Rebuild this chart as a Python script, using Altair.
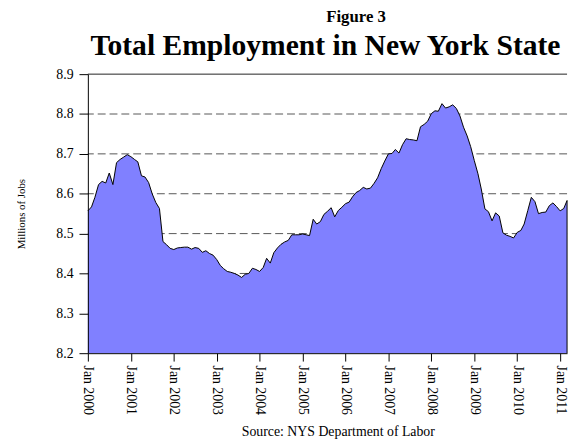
import altair as alt
import pandas as pd

months = pd.date_range("2000-01-01", periods=135, freq="MS").strftime("%Y-%m-%d").tolist()

employment = [
    8.557, 8.567, 8.591, 8.623, 8.631, 8.627, 8.652, 8.623, 8.678, 8.686, 8.692, 8.698,
    8.693, 8.686, 8.680, 8.645, 8.642, 8.628, 8.600, 8.578, 8.563, 8.480, 8.472, 8.463,
    8.460, 8.464, 8.465, 8.466, 8.466, 8.461, 8.465, 8.463, 8.453, 8.457, 8.450, 8.446,
    8.435, 8.420, 8.412, 8.405, 8.403, 8.400, 8.396, 8.390, 8.398, 8.400, 8.413, 8.410,
    8.405, 8.415, 8.438, 8.426, 8.452, 8.464, 8.473, 8.479, 8.483, 8.497, 8.497, 8.497,
    8.499, 8.497, 8.495, 8.536, 8.524, 8.530, 8.548, 8.556, 8.565, 8.542, 8.558, 8.566,
    8.575, 8.579, 8.592, 8.603, 8.608, 8.616, 8.612, 8.614, 8.626, 8.640, 8.663, 8.682,
    8.700, 8.701, 8.711, 8.702, 8.723, 8.738, 8.736, 8.735, 8.733, 8.768, 8.774, 8.782,
    8.801, 8.808, 8.807, 8.826, 8.815, 8.818, 8.823, 8.814, 8.795, 8.767, 8.745, 8.718,
    8.683, 8.650, 8.612, 8.562, 8.555, 8.532, 8.552, 8.544, 8.502, 8.496, 8.493, 8.489,
    8.503, 8.508, 8.524, 8.558, 8.591, 8.580, 8.550, 8.553, 8.554, 8.570, 8.577, 8.568,
    8.557, 8.563, 8.583,
]

y_ticks = [8.2, 8.3, 8.4, 8.5, 8.6, 8.7, 8.8, 8.9]
grid_values = [8.3, 8.4, 8.5, 8.6, 8.7, 8.8]
top_value = [8.9]
tick_years = list(range(2000, 2012))

title_text = "Total Employment in New York State"
figure_text = "Figure 3"
source_text = "Source: NYS Department of Labor"
y_title = "Millions of Jobs"

FONT = "Liberation Serif"
W, H = 486, 283

df = pd.DataFrame({"date": months, "v": employment})
last = df.tail(1).assign(base=8.2)

x_scale = alt.Scale(
    type="utc",
    domain=[alt.DateTime(year=2000, month=1, date=1, utc=True),
            alt.DateTime(year=2011, month=3, date=1, utc=True)],
    nice=False,
)
y_scale = alt.Scale(domain=[8.2, 8.9], nice=False, zero=False)

x_axis = alt.Axis(
    values=[alt.DateTime(year=yy, month=1, date=1, utc=True) for yy in tick_years],
    format="%b %Y", labelAngle=90, labelAlign="left", labelBaseline="middle",
    tickSize=8, labelPadding=4, domainColor="black", tickColor="black",
    labelFont=FONT, labelFontSize=14, labelColor="black", grid=False, title=None,
    labelOverlap=False, zindex=1,
)
y_axis = alt.Axis(
    values=y_ticks, format=".1f", tickSize=9, labelPadding=6,
    domainColor="black", tickColor="black", labelFont=FONT, labelFontSize=14,
    labelColor="black", grid=False, title=y_title, titleFont=FONT,
    titleFontSize=11, titleFontWeight="normal", titleColor="black", titlePadding=30,
    zindex=1,
)

grid = alt.Chart(pd.DataFrame({"g": grid_values})).mark_rule(
    color="#555555", strokeWidth=1, strokeDash=[8, 4]
).encode(y=alt.Y("g:Q", scale=y_scale, axis=y_axis))

top = alt.Chart(pd.DataFrame({"g": top_value})).mark_rule(
    color="#222222", strokeWidth=1
).encode(y=alt.Y("g:Q", scale=y_scale))

area = alt.Chart(df).mark_area(
    color="#8080FF", opacity=1, line={"color": "black", "strokeWidth": 1}
).encode(
    x=alt.X("date:T", scale=x_scale, axis=x_axis),
    y=alt.Y("v:Q", scale=y_scale),
    y2=alt.datum(8.2),
)

edge = alt.Chart(last).mark_rule(color="black", strokeWidth=1).encode(
    x=alt.X("date:T", scale=x_scale),
    y=alt.Y("v:Q", scale=y_scale),
    y2="base:Q",
)

def label(text, x, y, size, weight="normal"):
    return alt.Chart(pd.DataFrame({"t": [text]})).mark_text(
        font=FONT, fontSize=size, fontWeight=weight, color="black",
        align="center", baseline="alphabetic",
    ).encode(text="t:N", x=alt.value(x), y=alt.value(y))

fig = label(figure_text, 272, -53, 17, "bold")
ttl = label(title_text, 241, -19, 30, "bold")
src = label(source_text, 254, 367, 14)

chart = alt.layer(grid, top, area, edge, fig, ttl, src).properties(
    width=W, height=H,
    autosize=alt.AutoSizeParams(type="none"),
    padding={"left": 81, "top": 64, "right": 4, "bottom": 88},
).configure_view(stroke=None)

chart.save("out.html", embed_options={"renderer": "svg", "actions": False})
